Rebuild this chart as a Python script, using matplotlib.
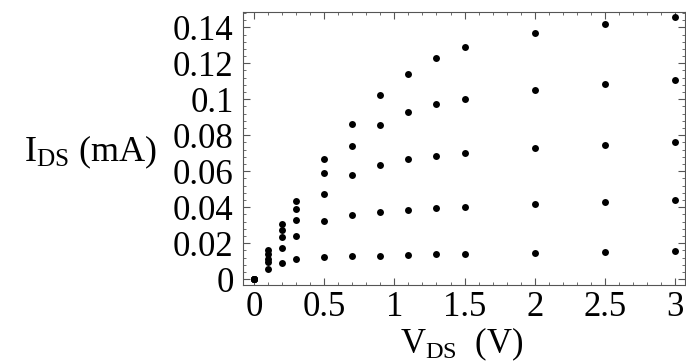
#!/usr/bin/env python3
"""Drain current vs drain-source voltage, five gate biases."""

import matplotlib
matplotlib.use("Agg")
import matplotlib.pyplot as plt
from matplotlib.ticker import MultipleLocator, FuncFormatter

# drain-source voltage (V)
V_DS = [0, 0.1, 0.2, 0.3, 0.5, 0.7, 0.9, 1.1, 1.3, 1.5, 2.0, 2.5, 3.0]

# drain current (mA), one list per gate bias, lowest first
I_1 = [0, 0.0057, 0.0089, 0.0111, 0.0124, 0.0128, 0.0131, 0.0135, 0.0139, 0.0141, 0.0144, 0.0150, 0.0156]
I_2 = [0, 0.0094, 0.0176, 0.0239, 0.0324, 0.0359, 0.0376, 0.0387, 0.0396, 0.0402, 0.0417, 0.0428, 0.0439]
I_3 = [0, 0.0115, 0.0233, 0.0328, 0.0476, 0.0578, 0.0637, 0.0667, 0.0687, 0.0702, 0.0728, 0.0748, 0.0764]
I_4 = [0, 0.0138, 0.0274, 0.0389, 0.0589, 0.0742, 0.0856, 0.0929, 0.0974, 0.1003, 0.1050, 0.1083, 0.1107]
I_5 = [0, 0.0160, 0.0306, 0.0437, 0.0670, 0.0864, 0.1022, 0.1142, 0.1228, 0.1289, 0.1368, 0.1417, 0.1456]

SERIES = [I_1, I_2, I_3, I_4, I_5]

plt.rcParams["font.family"] = ["Liberation Serif", "DejaVu Serif"]
plt.rcParams["mathtext.fontset"] = "custom"
plt.rcParams["mathtext.rm"] = "Liberation Serif"
plt.rcParams["mathtext.it"] = "Liberation Serif:italic"


def fmt(v, _pos):
    s = f"{v:.2f}".rstrip("0").rstrip(".")
    return "0" if s in ("0", "-0") else s


fig = plt.figure(figsize=(6.86, 3.64), dpi=100)
ax = fig.add_axes([0.3547, 0.217, 0.6438, 0.751])

for current in SERIES:
    ax.plot(V_DS, current, "o", color="black", markersize=5, markeredgewidth=0)

ax.set_xlim(-0.076, 3.07)
ax.set_ylim(-0.0032, 0.1487)

ax.xaxis.set_major_locator(MultipleLocator(0.5))
ax.xaxis.set_minor_locator(MultipleLocator(0.1))
ax.yaxis.set_major_locator(MultipleLocator(0.02))
ax.yaxis.set_minor_locator(MultipleLocator(0.004))
ax.xaxis.set_major_formatter(FuncFormatter(fmt))
ax.yaxis.set_major_formatter(FuncFormatter(fmt))

ax.tick_params(which="both", direction="in", top=True, right=True,
               color="#555555", labelsize=25)
ax.tick_params(axis="x", pad=4)
ax.tick_params(axis="y", pad=7)
ax.tick_params(which="major", length=5, width=0.8)
ax.tick_params(which="minor", length=2.5, width=0.6)
for spine in ax.spines.values():
    spine.set_color("#555555")
    spine.set_linewidth(0.8)

fig.text(157 / 686, 1 - 161.7 / 364, r"I$_{\rm DS}$ (mA)", ha="right", va="baseline", fontsize=26)
fig.text(461.5 / 686, 1 - 353 / 364, r"V$_{\rm DS}$  (V)", ha="center", va="baseline", fontsize=25)

fig.savefig("out.png", dpi=100)
